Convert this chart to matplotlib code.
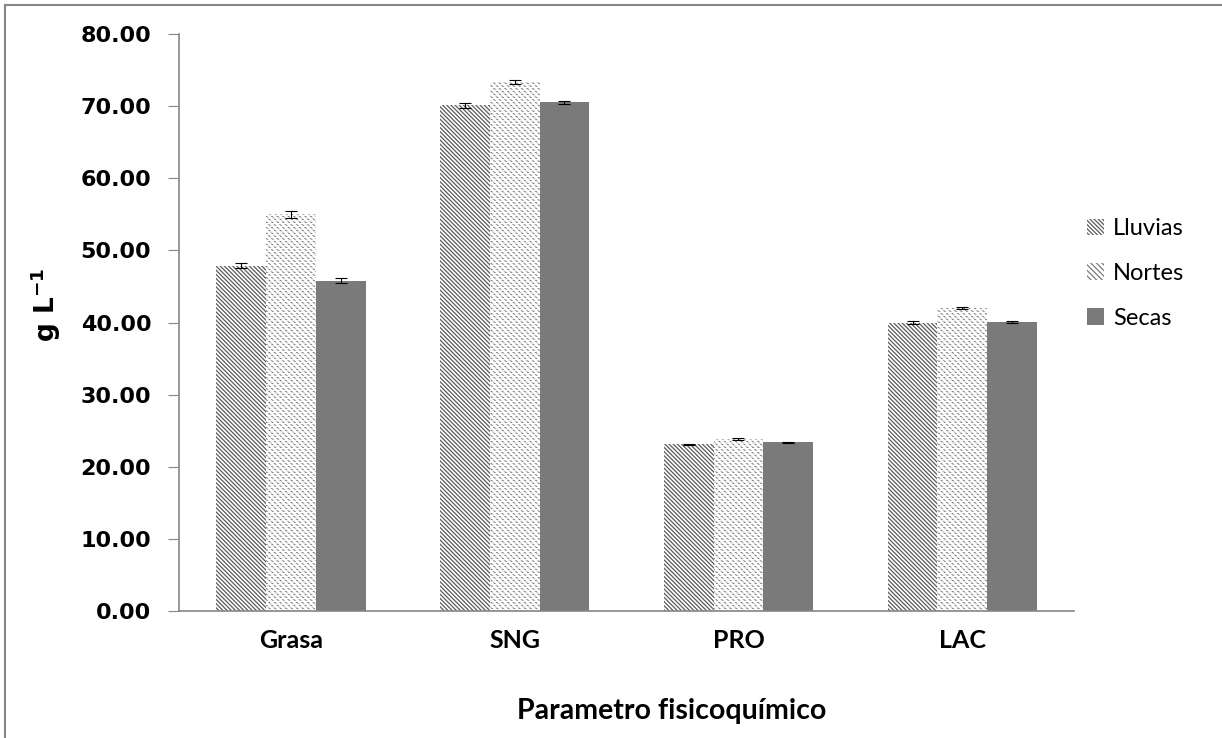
import matplotlib.pyplot as plt
from matplotlib.patches import Rectangle
import numpy as np

# Data
categories = ['Grasa', 'SNG', 'PRO', 'LAC']
series = ['Lluvias', 'Nortes', 'Secas']
lluvias = [47.9, 70.1, 23.1, 40.0]
nortes = [55.0, 73.3, 23.8, 42.0]
secas = [45.8, 70.5, 23.4, 40.1]
err_lluvias = [0.4, 0.3, 0.1, 0.15]
err_nortes = [0.45, 0.3, 0.15, 0.15]
err_secas = [0.35, 0.25, 0.1, 0.15]
yticks = np.arange(0, 81, 10)

plt.rcParams['hatch.linewidth'] = 0.9

fig = plt.figure(figsize=(12.22, 7.38), dpi=100)
ax = fig.add_axes([0.1465, 0.172, 0.879 - 0.1465, 0.954 - 0.172])

x = np.arange(len(categories))
w = 1 / 4.5

b1 = ax.bar(x - w, lluvias, w, color='white', edgecolor='#5a5a5a',
            hatch='\\' * 8, linewidth=0, label='Lluvias')
b2 = ax.bar(x, nortes, w, color='white', edgecolor='#7a7a7a',
            hatch='\\' * 6, linewidth=0, label='Nortes')
# white horizontal lines over Nortes to break the diagonals into dashes
ax.bar(x, nortes, w, fill=False, edgecolor='white', hatch='------', linewidth=0)
b3 = ax.bar(x + w, secas, w, color='#7a7a7a', edgecolor='#7a7a7a',
            linewidth=0, label='Secas')

for off, vals, errs in [(-w, lluvias, err_lluvias), (0, nortes, err_nortes), (w, secas, err_secas)]:
    ax.errorbar(x + off, vals, yerr=errs, fmt='none', ecolor='black',
                elinewidth=0.8, capsize=4, capthick=0.8)

ax.set_xlim(-0.5, len(categories) - 0.5)
ax.set_ylim(0, 80)
ax.set_yticks(yticks)
ax.set_yticklabels([f'{v:.2f}' for v in yticks], fontsize=16, fontweight='bold',
                   family='DejaVu Sans')
ax.set_xticks(x)
ax.set_xticklabels(categories, fontsize=18, fontweight='bold', family='Lato')
ax.tick_params(axis='x', length=0, pad=13)
ax.tick_params(axis='y', direction='out', length=8, color='#868686', pad=12)

for s in ['top', 'right']:
    ax.spines[s].set_visible(False)
for s in ['left', 'bottom']:
    ax.spines[s].set_color('#868686')
    ax.spines[s].set_linewidth(1.2)

ax.set_xlabel('Parametro fisicoquímico', fontsize=20.5, fontweight='bold',
              family='Lato', va='center')
ax.xaxis.set_label_coords(0.55, -0.173)
ax.set_ylabel('g L$^{\\mathbf{-1}}$', fontsize=19, fontweight='bold',
              family='DejaVu Sans', va='center')
ax.yaxis.set_label_coords(-0.149, 0.53)

leg = ax.legend(handles=[b1, b2, b3], loc='center left', bbox_to_anchor=(0.991, 0.585),
                frameon=False, prop={'family': 'Lato', 'size': 17},
                handlelength=0.7, handleheight=0.7, labelspacing=1.0,
                handletextpad=0.4)

# outer chart border
fig.patches.append(Rectangle((5 / 1222, -0.01), 1.1, 1 - 5 / 738 + 0.01,
                             transform=fig.transFigure, fill=False,
                             edgecolor='#868686', linewidth=1.5))

fig.savefig('out.png', dpi=100)
